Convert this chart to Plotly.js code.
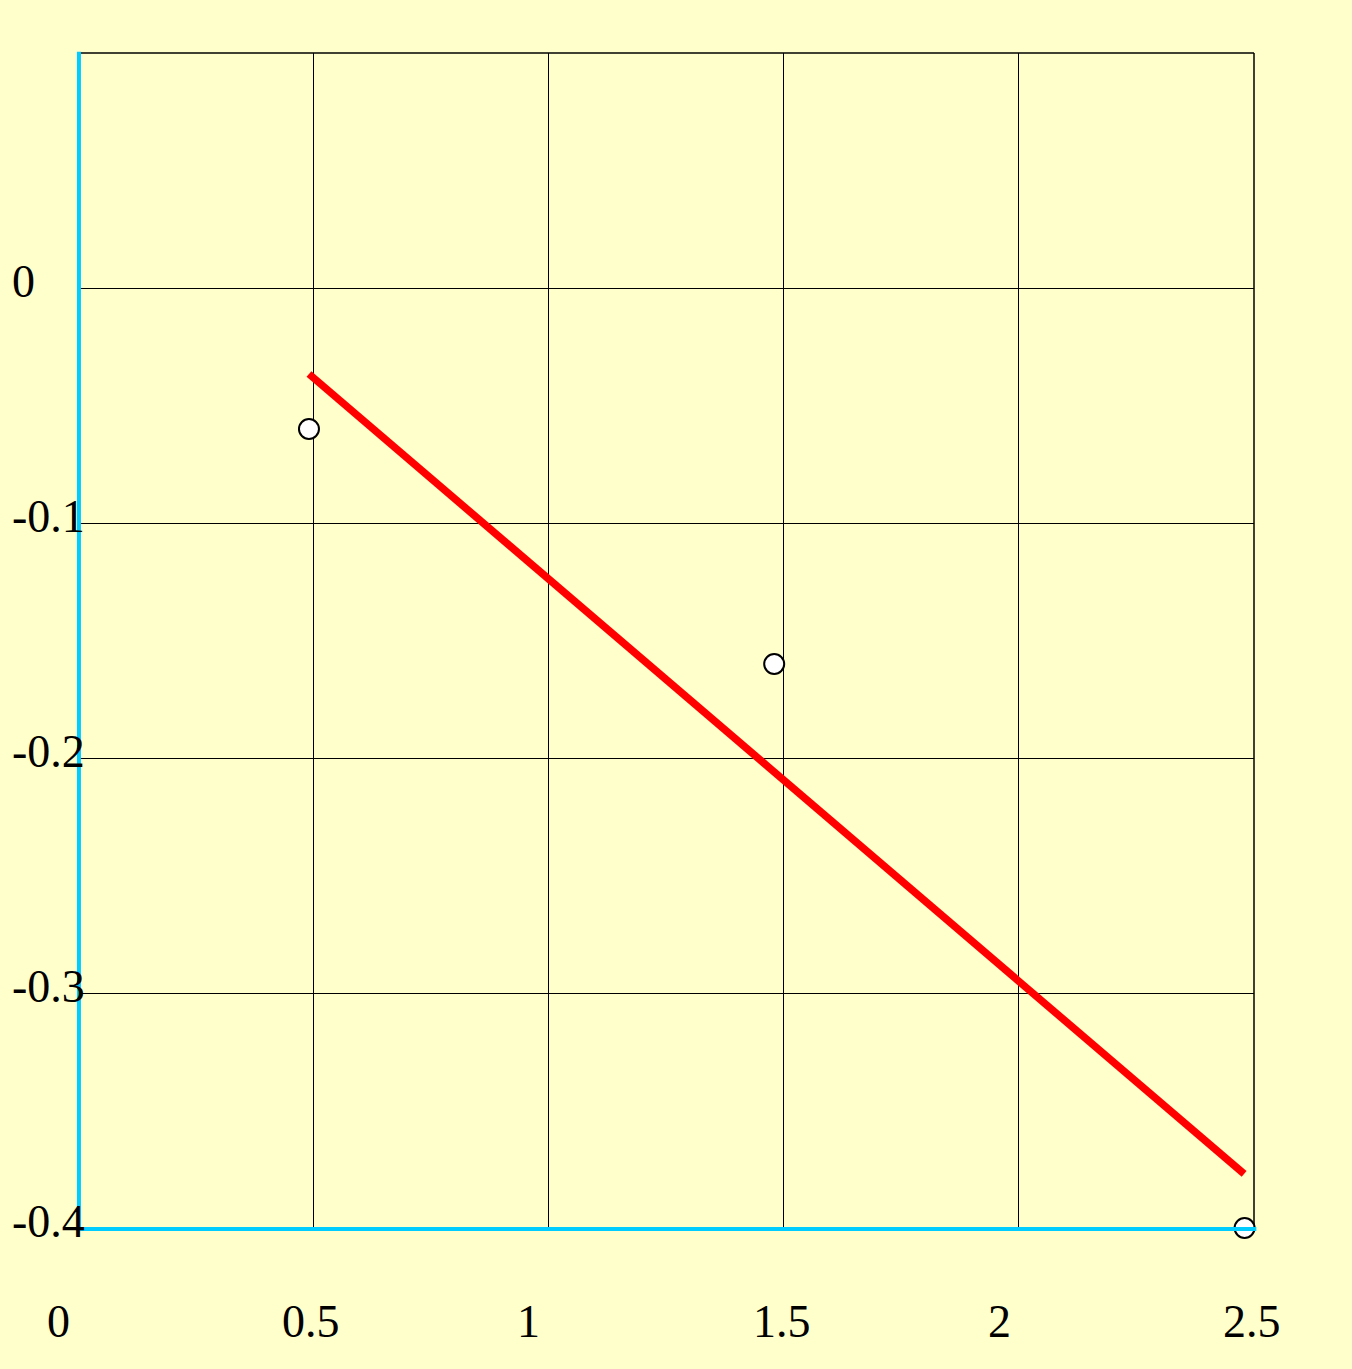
<!DOCTYPE html>
<html>
<head>
<meta charset="utf-8">
<script src="https://cdn.plot.ly/plotly-3.0.1.min.js"></script>
<style>html,body{margin:0;padding:0;background:#FFFFCC;}</style>
</head>
<body>
<div id="chart" style="width:1352px;height:1369px;"></div>
<script>
// Data
const pointX = [0.491, 1.480, 2.480];
const pointY = [-0.060, -0.160, -0.400];
const fitX = [0.491, 2.479];
const fitY = [-0.0366, -0.377];
const xTickVals = [0, 0.5, 1, 1.5, 2, 2.5];
const xTickText = ["0", "0.5", "1", "1.5", "2", "2.5"];
const yTickVals = [0, -0.1, -0.2, -0.3, -0.4];
const yTickText = ["0", "-0.1", "-0.2", "-0.3", "-0.4"];

const FONT = {family: "Liberation Serif, Times New Roman, serif", size: 46, color: "#000000"};

const traces = [
  {
    x: fitX, y: fitY, type: "scatter", mode: "lines",
    line: {color: "#FF0000", width: 7.5},
    cliponaxis: false, hoverinfo: "skip", showlegend: false
  },
  {
    x: pointX, y: pointY, type: "scatter", mode: "markers",
    marker: {symbol: "circle", size: 20, color: "#FFFFFF", line: {color: "#000000", width: 2}},
    cliponaxis: false, showlegend: false
  }
];

const annotations = [];
xTickVals.forEach((v, i) => annotations.push({
  x: v, xref: "x", y: 0, yref: "paper", text: xTickText[i],
  xanchor: "left", yanchor: "middle", xshift: -33, yshift: -93,
  showarrow: false, font: FONT
}));
yTickVals.forEach((v, i) => annotations.push({
  x: 0, xref: "paper", y: v, yref: "y", text: yTickText[i],
  xanchor: "left", yanchor: "middle", xshift: -68, yshift: 7,
  showarrow: false, font: FONT
}));

const layout = {
  width: 1352, height: 1369,
  margin: {l: 78, r: 98, t: 53, b: 141, pad: 0},
  paper_bgcolor: "#FFFFCC", plot_bgcolor: "#FFFFCC",
  showlegend: false,
  xaxis: {
    range: [0, 2.5], tickvals: xTickVals, showticklabels: false, ticks: "",
    showgrid: true, gridcolor: "#000000", gridwidth: 1, zeroline: false,
    showline: false, fixedrange: true
  },
  yaxis: {
    range: [-0.4, 0.1], tickvals: yTickVals, showticklabels: false, ticks: "",
    showgrid: true, gridcolor: "#000000", gridwidth: 1, zeroline: false,
    showline: false, fixedrange: true
  },
  shapes: [
    {type: "line", xref: "paper", yref: "paper", x0: 0, x1: 1, y0: 1, y1: 1, line: {color: "#000000", width: 1.5}, layer: "below"},
    {type: "line", xref: "paper", yref: "paper", x0: 1, x1: 1, y0: 0, y1: 1, line: {color: "#000000", width: 1.5}, layer: "below"},
    {type: "line", xref: "paper", yref: "paper", x0: 0.0008, x1: 0.0008, y0: 0, y1: 1.001, line: {color: "#00CCFF", width: 4}, layer: "above"},
    {type: "line", xref: "paper", yref: "paper", x0: 0, x1: 1.002, y0: -0.0008, y1: -0.0008, line: {color: "#00CCFF", width: 4}, layer: "above"}
  ],
  annotations: annotations
};

Plotly.newPlot("chart", traces, layout, {displayModeBar: false, staticPlot: true});
</script>
</body>
</html>
